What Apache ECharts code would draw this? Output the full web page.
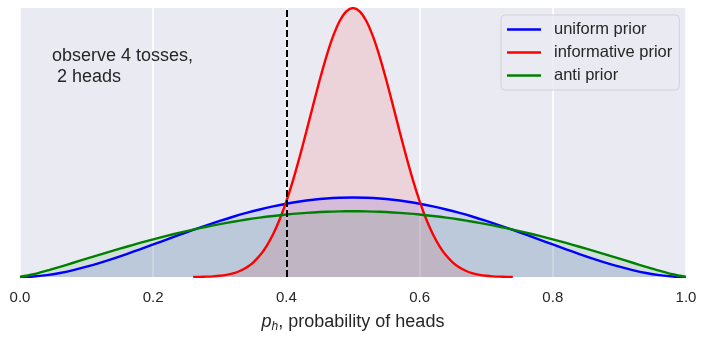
<!DOCTYPE html>
<html>
<head>
<meta charset="utf-8">
<script src="https://cdn.jsdelivr.net/npm/echarts@6/dist/echarts.min.js"></script>
<style>
  html, body { margin: 0; padding: 0; background: #ffffff; }
  #chart { width: 706px; height: 339px; }
</style>
</head>
<body>
<div id="chart"></div>
<script>
// Posterior densities of p_h after 4 tosses with 2 heads, for three priors.
const xGrid = [0.00, 0.02, 0.04, 0.06, 0.08, 0.10, 0.12, 0.14, 0.16, 0.18,
               0.20, 0.22, 0.24, 0.26, 0.28, 0.30, 0.32, 0.34, 0.36, 0.38,
               0.40, 0.42, 0.44, 0.46, 0.48, 0.50, 0.52, 0.54, 0.56, 0.58,
               0.60, 0.62, 0.64, 0.66, 0.68, 0.70, 0.72, 0.74, 0.76, 0.78,
               0.80, 0.82, 0.84, 0.86, 0.88, 0.90, 0.92, 0.94, 0.96, 0.98, 1.00];

const uniformPost = [0, 0.012, 0.044, 0.095, 0.163, 0.243, 0.335, 0.435, 0.542, 0.654,
                     0.768, 0.883, 0.998, 1.111, 1.219, 1.323, 1.421, 1.511, 1.593, 1.665,
                     1.728, 1.780, 1.821, 1.851, 1.869, 1.875, 1.869, 1.851, 1.821, 1.780,
                     1.728, 1.665, 1.593, 1.511, 1.421, 1.323, 1.219, 1.111, 0.998, 0.883,
                     0.768, 0.654, 0.542, 0.435, 0.335, 0.243, 0.163, 0.095, 0.044, 0.012, 0];

const antiPost = [0, 0.064, 0.149, 0.241, 0.336, 0.432, 0.528, 0.622, 0.714, 0.803,
                  0.888, 0.969, 1.046, 1.118, 1.185, 1.247, 1.304, 1.355, 1.401, 1.440,
                  1.474, 1.501, 1.523, 1.539, 1.548, 1.551, 1.548, 1.539, 1.523, 1.501,
                  1.474, 1.440, 1.401, 1.355, 1.304, 1.247, 1.185, 1.118, 1.046, 0.969,
                  0.888, 0.803, 0.714, 0.622, 0.528, 0.432, 0.336, 0.241, 0.149, 0.064, 0];

const xNarrow = [0.26, 0.27, 0.28, 0.29, 0.30, 0.31, 0.32, 0.33, 0.34, 0.35,
                 0.36, 0.37, 0.38, 0.39, 0.40, 0.41, 0.42, 0.43, 0.44, 0.45,
                 0.46, 0.47, 0.48, 0.49, 0.50, 0.51, 0.52, 0.53, 0.54, 0.55,
                 0.56, 0.57, 0.58, 0.59, 0.60, 0.61, 0.62, 0.63, 0.64, 0.65,
                 0.66, 0.67, 0.68, 0.69, 0.70, 0.71, 0.72, 0.73, 0.74];

const informativePost = [0.002, 0.004, 0.008, 0.015, 0.028, 0.050, 0.086, 0.141, 0.223, 0.341,
                         0.505, 0.725, 1.009, 1.363, 1.790, 2.286, 2.840, 3.435, 4.047, 4.646,
                         5.200, 5.674, 6.038, 6.267, 6.345, 6.267, 6.038, 5.674, 5.200, 4.646,
                         4.047, 3.435, 2.840, 2.286, 1.790, 1.363, 1.009, 0.725, 0.505, 0.341,
                         0.223, 0.141, 0.086, 0.050, 0.028, 0.015, 0.008, 0.004, 0.002];

const tickLabels = ['0.0', '0.2', '0.4', '0.6', '0.8', '1.0'];
const observedFraction = 0.4;
const seriesNames = ['uniform prior', 'informative prior', 'anti prior'];

const pairs = (xs, ys) => xs.map((x, i) => [x, ys[i]]);
const FONT = "'Liberation Sans', Arial, sans-serif";
const TEXT = '#262626';

function curve(name, color, data, extra) {
  return Object.assign({
    name: name,
    type: 'line',
    data: data,
    smooth: 0.3,
    showSymbol: false,
    symbol: 'none',
    color: color,
    lineStyle: { color: color, width: 2.4 },
    areaStyle: { color: color, opacity: 0.1 },
    emphasis: { disabled: true },
    animation: false
  }, extra || {});
}

const chart = echarts.init(document.getElementById('chart'), null, { renderer: 'canvas' });

chart.setOption({
  backgroundColor: '#ffffff',
  textStyle: { fontFamily: FONT, color: TEXT },
  grid: {
    left: 20, right: 20, top: 8, bottom: 62,
    show: true, backgroundColor: '#EAEAF2', borderWidth: 0
  },
  xAxis: {
    type: 'value',
    min: 0, max: 1, interval: 0.2,
    axisLine: { show: false },
    axisTick: { show: false },
    splitLine: { show: true, lineStyle: { color: '#ffffff', width: 1.6 } },
    axisLabel: {
      margin: 13,
      fontSize: 15, color: TEXT, fontFamily: FONT,
      formatter: v => tickLabels[Math.round(v / 0.2)]
    },
    name: '{p|p}{s|h}{t|, probability of heads}',
    nameLocation: 'middle',
    nameGap: 34,
    nameTextStyle: {
      color: TEXT, fontFamily: FONT,
      rich: {
        p: { fontSize: 18, fontStyle: 'italic', lineHeight: 22, color: TEXT, fontFamily: FONT },
        s: { fontSize: 12, fontStyle: 'italic', lineHeight: 12, verticalAlign: 'bottom', color: TEXT, fontFamily: FONT },
        t: { fontSize: 18, lineHeight: 22, color: TEXT, fontFamily: FONT }
      }
    }
  },
  yAxis: {
    type: 'value',
    min: 0, max: 6.345,
    show: false,
    splitLine: { show: false }
  },
  legend: {
    data: seriesNames,
    orient: 'vertical',
    left: 501, top: 15,
    padding: [6, 7, 6, 6],
    itemGap: 6,
    itemWidth: 34,
    itemHeight: 2.5,
    icon: 'rect',
    backgroundColor: 'rgba(234,234,242,0.8)',
    borderColor: 'rgba(204,204,204,0.8)',
    borderWidth: 1,
    borderRadius: 4,
    textStyle: { fontSize: 16.5, color: TEXT, fontFamily: FONT, padding: [0, 0, 0, 8] }
  },
  graphic: [{
    type: 'text',
    left: 52, top: 46,
    z: 100,
    style: {
      text: 'observe 4 tosses,\n 2 heads',
      font: "18px 'Liberation Sans', Arial, sans-serif",
      fill: TEXT,
      lineHeight: 21
    }
  }],
  series: [
    curve(seriesNames[0], '#0000ff', pairs(xGrid, uniformPost), {
      markLine: {
        silent: true,
        symbol: 'none',
        label: { show: false },
        lineStyle: { color: '#000000', type: [7, 3], width: 2 },
        data: [{ xAxis: observedFraction }],
        animation: false
      }
    }),
    curve(seriesNames[1], '#ff0000', pairs(xNarrow, informativePost)),
    curve(seriesNames[2], '#008000', pairs(xGrid, antiPost))
  ]
});
</script>
</body>
</html>
